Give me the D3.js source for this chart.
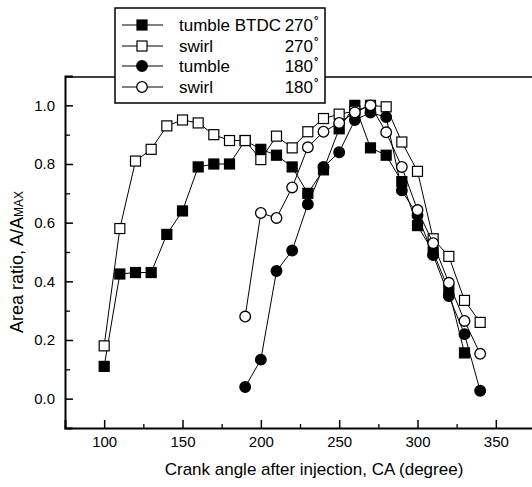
<!DOCTYPE html>
<html><head><meta charset="utf-8">
<script src="https://cdn.jsdelivr.net/npm/d3@7"></script>
<style>body{margin:0;background:#fff}svg{display:block}text{font-family:Arial,"Liberation Sans",sans-serif;fill:#000}</style>
</head><body><div id="c"></div>
<script>
const xTumbleBTDC270 = [100,110,120,130,140,150,160,170,180,190,200,210,220,230,240,250,260,270,280,290,300,310,320,330];
const yTumbleBTDC270 = [0.11,0.425,0.43,0.43,0.56,0.64,0.79,0.80,0.80,0.88,0.85,0.83,0.79,0.70,0.78,0.92,1.00,0.855,0.83,0.74,0.59,0.50,0.37,0.156];
const xSwirl270 = [100,110,120,130,140,150,160,170,180,190,200,210,220,230,240,250,260,270,280,290,300,310,320,330,340];
const ySwirl270 = [0.18,0.58,0.81,0.85,0.93,0.95,0.94,0.90,0.88,0.88,0.815,0.895,0.855,0.91,0.955,0.97,0.98,1.00,0.995,0.875,0.775,0.545,0.485,0.335,0.26];
const xTumble180 = [190,200,210,220,230,240,250,260,270,280,290,300,310,320,330,340];
const yTumble180 = [0.04,0.133,0.435,0.505,0.663,0.79,0.84,0.95,0.975,0.96,0.71,0.625,0.49,0.35,0.22,0.027];
const xSwirl180 = [190,200,210,220,230,240,250,260,270,280,290,300,310,320,330,340];
const ySwirl180 = [0.28,0.633,0.616,0.72,0.857,0.91,0.94,0.976,1.00,0.908,0.79,0.643,0.53,0.395,0.265,0.153];
const seriesNames = ["tumble BTDC", "swirl", "tumble", "swirl"];
const seriesAngles = ["270", "270", "180", "180"];
const xTicks = [100,150,200,250,300,350];
const xMinor = [125,175,225,275,325];
const yTicks = [0.0,0.2,0.4,0.6,0.8,1.0];
const yMinor = [0.1,0.3,0.5,0.7,0.9];
const xTitle = "Crank angle after injection, CA (degree)";

const W=532,H=487;
const svg=d3.select("#c").append("svg").attr("width",W).attr("height",H);
const x=d3.scaleLinear().domain([75,375]).range([65,535]);
const y=d3.scaleLinear().domain([-0.1,1.1]).range([428,76]);

const series=[
 {xs:xTumbleBTDC270, ys:yTumbleBTDC270, shape:"square", fill:"#000"},
 {xs:xSwirl270, ys:ySwirl270, shape:"square", fill:"#fff"},
 {xs:xTumble180, ys:yTumble180, shape:"circle", fill:"#000"},
 {xs:xSwirl180, ys:ySwirl180, shape:"circle", fill:"#fff"}
];

// frame
svg.append("line").attr("x1",x(75)).attr("x2",W).attr("y1",y(1.1)+1).attr("y2",y(1.1)+1).attr("stroke","#000").attr("stroke-width",1.6);

// axes
const xAxis=d3.axisBottom(x).tickValues(xTicks).tickSize(-8).tickPadding(8).tickFormat(d3.format("d"));
const gx=svg.append("g").attr("transform",`translate(0,${y(-0.1)})`).call(xAxis);
gx.select(".domain").attr("stroke-width",2);
gx.selectAll(".tick line").attr("stroke-width",1.5);
gx.selectAll("text").attr("font-size",15).attr("font-family","Arial, Liberation Sans");
const xAxisMinor=d3.axisBottom(x).tickValues(xMinor).tickSize(-4).tickFormat("");
const gxm=svg.append("g").attr("transform",`translate(0,${y(-0.1)})`).call(xAxisMinor);
gxm.select(".domain").remove();
gxm.selectAll(".tick line").attr("stroke-width",1.3);

const yAxis=d3.axisLeft(y).tickValues(yTicks).tickSize(-8).tickPadding(10).tickFormat(d3.format(".1f"));
const gy=svg.append("g").attr("transform",`translate(${x(75)},0)`).call(yAxis);
gy.select(".domain").attr("stroke-width",2);
gy.selectAll(".tick line").attr("stroke-width",1.5);
gy.selectAll("text").attr("font-size",15).attr("font-family","Arial, Liberation Sans");
const yAxisMinor=d3.axisLeft(y).tickValues(yMinor).tickSize(-5).tickFormat("");
const gym=svg.append("g").attr("transform",`translate(${x(75)},0)`).call(yAxisMinor);
gym.select(".domain").remove();
gym.selectAll(".tick line").attr("stroke-width",1.3);

// titles
svg.append("text").attr("x",314).attr("y",475).attr("text-anchor","middle").attr("font-size",17).text(xTitle);
const yt=svg.append("text").attr("transform","translate(23,262) rotate(-90)").attr("text-anchor","middle").attr("font-size",18);
yt.append("tspan").text("Area ratio, A/A");
yt.append("tspan").attr("font-size",12).text("MAX");

// series
const line=d3.line();
function marker(g,shape,fill,cx,cy){
  if(shape==="square"){
    g.append("rect").attr("x",cx-5).attr("y",cy-5).attr("width",10).attr("height",10)
     .attr("fill",fill).attr("stroke","#000").attr("stroke-width",1.2);
  } else {
    g.append("circle").attr("cx",cx).attr("cy",cy).attr("r",5.3)
     .attr("fill",fill).attr("stroke","#000").attr("stroke-width",1.3);
  }
}
series.forEach(s=>{
  const pts=s.xs.map((v,i)=>[x(v),y(s.ys[i])]);
  svg.append("path").attr("d",line(pts)).attr("fill","none").attr("stroke","#000").attr("stroke-width",1);
  const g=svg.append("g");
  pts.forEach(p=>marker(g,s.shape,s.fill,p[0],p[1]));
});

// legend
const lg=svg.append("g");
lg.append("rect").attr("x",115).attr("y",8).attr("width",210).attr("height",95).attr("fill","#fff").attr("stroke","#000").attr("stroke-width",1.5);
const rowY=[25,46,66,87];
series.forEach((s,i)=>{
  const cy=rowY[i];
  lg.append("line").attr("x1",122).attr("x2",163).attr("y1",cy).attr("y2",cy).attr("stroke","#000").attr("stroke-width",1);
  marker(lg,s.shape,s.fill,142,cy);
  lg.append("text").attr("x",179).attr("y",cy+6).attr("font-size",17).text(seriesNames[i]);
  lg.append("text").attr("x",313).attr("y",cy+6).attr("text-anchor","end").attr("font-size",17).text(seriesAngles[i]);
  lg.append("text").attr("x",314).attr("y",cy-1).attr("font-size",11).attr("font-weight","bold").text("°");
});
</script></body></html>
